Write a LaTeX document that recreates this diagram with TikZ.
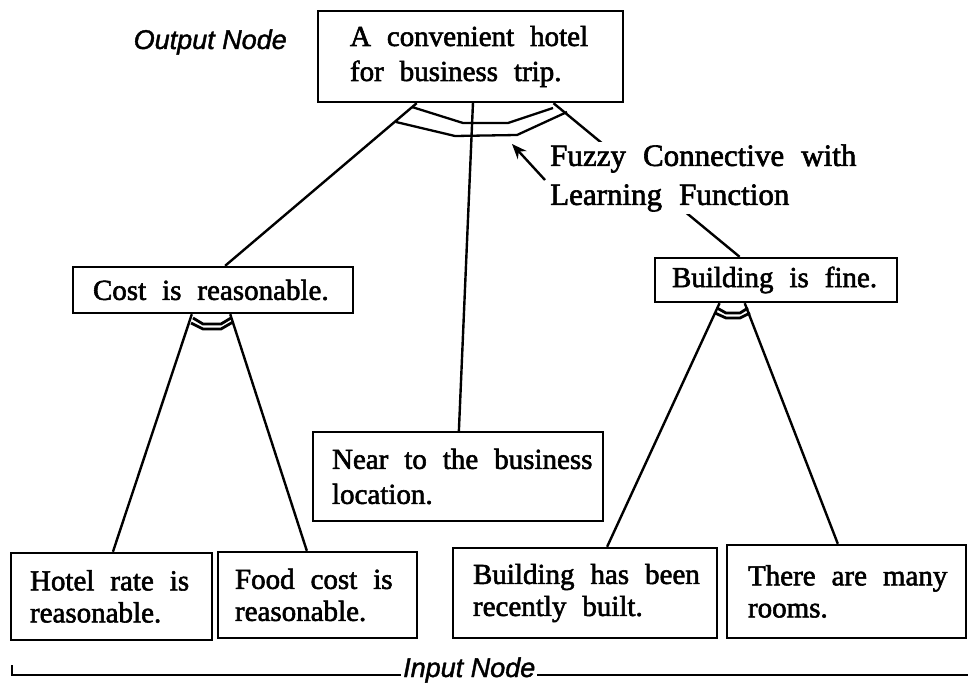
\documentclass[tikz,border=0pt]{standalone}
\usepackage{fontspec}
\setmainfont{Liberation Serif}[BoldFont=Liberation Serif, BoldFeatures={FakeBold=2}]
\setsansfont{Liberation Sans}[BoldFont=Liberation Sans, BoldItalicFont=Liberation Sans Italic, BoldItalicFeatures={FakeBold=1.5}]
\usetikzlibrary{calc,arrows.meta}
\newcommand\boxfont{\bfseries\fontsize{29}{32}\selectfont}
\newcommand\topfont{\bfseries\fontsize{29}{35}\selectfont}
\newcommand\fuzfont{\bfseries\fontsize{31}{39}\selectfont}
\newcommand\li[1]{\mbox{\spaceskip=0.55em\relax #1}}
\tikzset{
  x=1pt,y=-1pt,
  box/.style={draw, line width=2.4pt, inner sep=0pt, align=left, font=\boxfont},
  link/.style={line width=2.4pt},
  conn/.style={line width=2.3pt, line join=round},
  tag/.style={font=\sffamily\itshape\bfseries\fontsize{27}{30}\selectfont, inner sep=0pt},
}
\begin{document}
\begin{tikzpicture}
\useasboundingbox (0,0) rectangle (968,684);
% boxes
\node[box, font=\topfont, minimum width=305pt, minimum height=91pt, text width=241pt] (top) at (470.5,56.5) {\li{A convenient hotel}\\\li{for business trip.}};
\node[box, minimum width=280pt, minimum height=46pt, text width=240pt] (cost) at (213,290) {\li{Cost is reasonable.}};
\node[box, minimum width=242pt, minimum height=44pt, text width=208pt] (bfine) at (776,280) {\li{Building is fine.}};
\node[box, font=\topfont, minimum width=290pt, minimum height=89pt, text width=252pt] (near) at (458,476.5) {\li{Near to the business}\\\li{location.}};
\node[box, minimum width=201pt, minimum height=87pt, text width=163pt] (hotel) at (111.5,596.5) {\li{Hotel rate is}\\\li{reasonable.}};
\node[box, minimum width=199pt, minimum height=86pt, text width=165pt] (food) at (317.5,595) {\li{Food cost is}\\\li{reasonable.}};
\node[box, minimum width=264pt, minimum height=90pt, text width=224pt] (bnew) at (585,593) {\li{Building has been}\\\li{recently built.}};
\node[box, minimum width=239pt, minimum height=93pt, text width=197pt] (rooms) at (846.5,591.5) {\li{There are many}\\\li{rooms.}};
% output label
\node[tag, anchor=east] (outlab) at (287,42) {Output Node};
% connectors from top
\draw[link] ($(top.south west)!0.325!(top.south east)$) -- ($(cost.north west)!0.543!(cost.north east)$);
\draw[link] ($(top.south west)!0.508!(top.south east)$) -- ($(near.north west)!0.503!(near.north east)$);
\draw[link] ($(top.south west)!0.77!(top.south east)$) -- ($(bfine.north west)!0.351!(bfine.north east)$);
% connectors from cost
\draw[link] ($(cost.south west)!0.425!(cost.south east)$) -- ($(hotel.north west)!0.507!(hotel.north east)$);
\draw[link] ($(cost.south west)!0.561!(cost.south east)$) -- ($(food.north west)!0.447!(food.north east)$);
% connectors from building fine
\draw[link] ($(bfine.south west)!0.269!(bfine.south east)$) -- ($(bnew.north west)!0.583!(bnew.north east)$);
\draw[link] ($(bfine.south west)!0.372!(bfine.south east)$) -- ($(rooms.north west)!0.464!(rooms.north east)$);
% fuzzy connectives
\draw[conn] (412,107) -- (463,123) -- (508,123) -- (553,108);
\draw[conn] (396,122) -- (455,136) -- (517,135) -- (567,112);
\draw[conn, line width=2.8pt] (193,318) -- (203,324) -- (221,324) -- (231,318);
\draw[conn, line width=2.8pt] (191,323) -- (203,329) -- (221,329) -- (233,322);
\draw[conn, line width=2.8pt] (717,308) -- (726,313) -- (740,313) -- (748,308);
\draw[conn, line width=2.8pt] (715,313) -- (726,318) -- (740,318) -- (750,313);
% fuzzy label
\node[fill=white, inner xsep=3pt, inner ysep=2pt, align=left, font=\fuzfont, anchor=west] (fuzzy) at (547,178) {\li{Fuzzy Connective with}\\\li{Learning Function}};
\coordinate (arrtail) at (545,180);
\coordinate (arrtip) at (512,144);
\draw[line width=2.4pt, -{Stealth[length=15pt,width=12pt]}] (arrtail) -- (arrtip);
% input line
\coordinate (inl) at (12,665);
\coordinate (inr) at (968,675);
\draw[line width=1.8pt] (inl) |- (inr);
\node[tag, fill=white, inner xsep=2pt, inner ysep=1pt, anchor=base west] (inlab) at (401,677) {Input Node};
\end{tikzpicture}
\end{document}
